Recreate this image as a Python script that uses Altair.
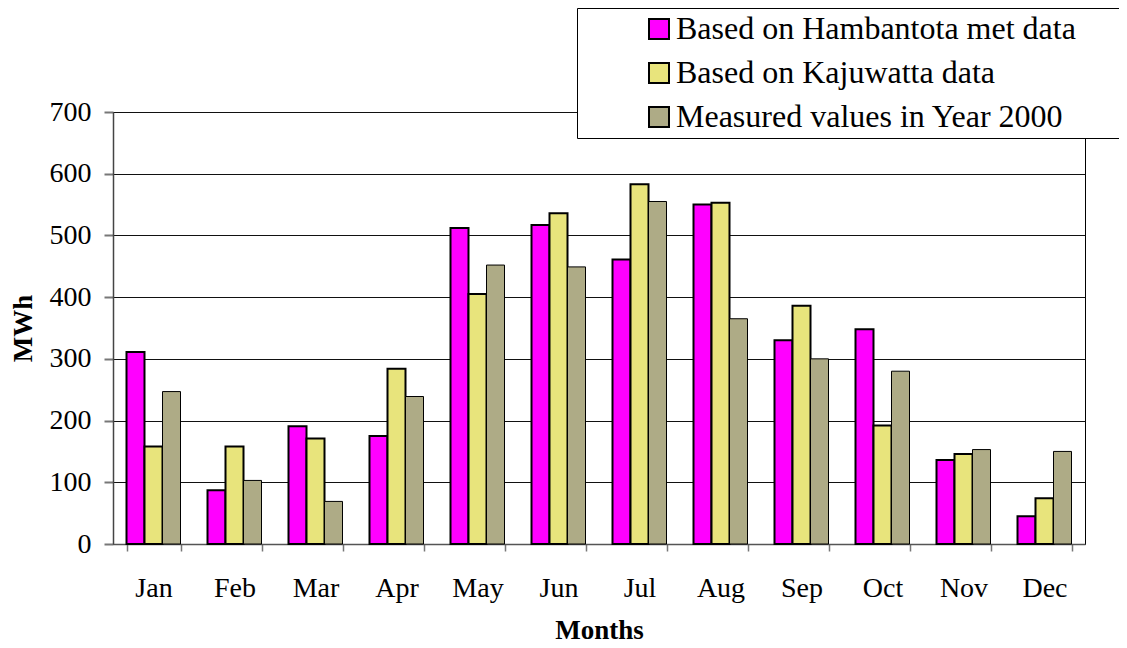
import altair as alt
import pandas as pd

months = ["Jan", "Feb", "Mar", "Apr", "May", "Jun", "Jul", "Aug", "Sep", "Oct", "Nov", "Dec"]
hambantota = [311, 87, 191, 175, 512, 517, 461, 550, 330, 348, 136, 45]
kajuwatta = [158, 158, 171, 284, 405, 536, 583, 553, 386, 192, 146, 74]
measured = [247, 103, 69, 239, 452, 449, 555, 365, 300, 280, 153, 150]
series = ["Based on Hambantota met data", "Based on Kajuwatta data", "Measured values in Year 2000"]
colors = ["#ff00ff", "#e8e47c", "#aeab86"]
y_ticks = [0, 100, 200, 300, 400, 500, 600, 700]

rows = []
for s, vals in zip(series, [hambantota, kajuwatta, measured]):
    for m, v in zip(months, vals):
        rows.append({"month": m, "series": s, "value": v})
df = pd.DataFrame(rows)

FONT = "Liberation Serif"

chart = alt.Chart(df).mark_bar(stroke="black").encode(
    x=alt.X(
        "month:N", sort=months,
        scale=alt.Scale(paddingInner=1 / 3, paddingOuter=1 / 6),
        axis=alt.Axis(
            title="Months", labelAngle=0, tickBand="extent", labelFontSize=28,
            labelPadding=23, tickSize=7, tickColor="#777", tickWidth=1.5,
            domainColor="#555", domainWidth=1.5, labelColor="black",
            titleFontSize=27, titleFontWeight="bold", titleColor="black",
            titleY=94, titleBaseline="alphabetic", grid=False,
        ),
    ),
    xOffset=alt.XOffset("series:N", sort=series),
    y=alt.Y(
        "value:Q",
        scale=alt.Scale(domain=[0, 700], nice=False),
        axis=alt.Axis(
            title="MWh", values=y_ticks, labelFontSize=28, labelPadding=13,
            tickSize=9, tickColor="#777", tickWidth=2, domainColor="#444",
            domainWidth=1.5, labelColor="black", grid=True, gridColor="#111",
            gridWidth=1, titleFontSize=27, titleFontWeight="bold",
            titleColor="black", titleAngle=270, titleX=-82, titleY=216,
            titleBaseline="alphabetic", titleAlign="center",
        ),
    ),
    color=alt.Color(
        "series:N", sort=series,
        scale=alt.Scale(domain=series, range=colors),
        legend=alt.Legend(
            orient="none", legendX=464, legendY=-104, direction="vertical",
            title="\u00a0", titleOrient="right", titlePadding=120, titleFontSize=32,
            padding=5, symbolType="square", symbolSize=400,
            symbolStrokeColor="black", symbolStrokeWidth=2, symbolOffset=61,
            labelOffset=1, labelFontSize=32, labelColor="black", labelLimit=1000,
            rowPadding=12, strokeColor="black", fillColor="white",
        ),
    ),
    strokeWidth=alt.condition(alt.datum.series == series[2], alt.value(1), alt.value(2)),
).properties(
    width=972, height=432,
    autosize=alt.AutoSizeParams(type="none"),
    padding={"left": 105, "top": 104, "right": 34, "bottom": 96},
).configure(font=FONT).configure_view(stroke="black", strokeWidth=1)

chart.save("out.html", embed_options={"renderer": "svg", "actions": False})
